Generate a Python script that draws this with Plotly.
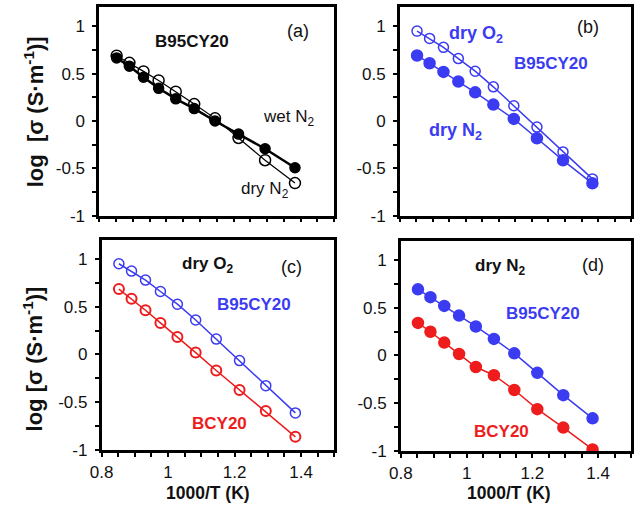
import plotly.graph_objects as go

# ---- data ----
inv_T = [0.852, 0.890, 0.932, 0.977, 1.028, 1.083, 1.145, 1.215, 1.294, 1.383]

a_wet_N2 = [0.666, 0.579, 0.462, 0.345, 0.234, 0.131, 0.000, -0.138, -0.293, -0.493]
a_dry_N2 = [0.690, 0.614, 0.524, 0.428, 0.310, 0.179, 0.028, -0.179, -0.414, -0.655]

b95_dry_O2 = [0.949, 0.872, 0.778, 0.659, 0.526, 0.361, 0.161, -0.064, -0.326, -0.611]
b95_dry_N2 = [0.692, 0.610, 0.518, 0.417, 0.303, 0.173, 0.022, -0.182, -0.415, -0.658]
bcy_dry_O2 = [0.684, 0.582, 0.463, 0.330, 0.184, 0.020, -0.167, -0.371, -0.592, -0.861]
bcy_dry_N2 = [0.340, 0.248, 0.135, 0.015, -0.121, -0.207, -0.361, -0.562, -0.754, -0.983]

x_ticks = [0.8, 1.0, 1.2, 1.4]
x_tick_text = ["0.8", "1", "1.2", "1.4"]
y_ticks = [-1, -0.5, 0, 0.5, 1]
y_tick_text = ["-1", "-0.5", "0", "0.5", "1"]

BLUE = "#3B3BF2"
RED = "#EE1C1C"
BLACK = "#000000"
W, H = 634, 515
FAM = "Liberation Sans, Arial, sans-serif"

fig = go.Figure()

def px_x(p):
    return p / W

def px_y(p):
    return 1 - p / H

panels = {
    # name: (left, right, top, bottom) in pixels
    "1": (89, 329, 7.5, 220),
    "2": (396, 632, 7.5, 220),
    "3": (91.5, 329, 244.5, 459),
    "4": (397, 632, 245.5, 460),
}

def add(panel, y, color, symbol, lw, msize=10, mlw=1.5):
    fig.add_trace(go.Scatter(
        x=inv_T, y=y, mode="lines+markers",
        xaxis="x" + ("" if panel == "1" else panel),
        yaxis="y" + ("" if panel == "1" else panel),
        line=dict(color=color, width=lw),
        marker=dict(symbol=symbol, size=msize, color=color,
                    line=dict(color=color, width=mlw)),
        showlegend=False, hoverinfo="skip"))

add("1", a_wet_N2, BLACK, "circle", 2.5, msize=10)
add("1", a_dry_N2, BLACK, "circle-open", 1.2, msize=11)
add("2", b95_dry_O2, BLUE, "circle-open", 1.5)
add("2", b95_dry_N2, BLUE, "circle", 1.5, msize=11)
add("3", b95_dry_O2, BLUE, "circle-open", 1.5)
add("3", bcy_dry_O2, RED, "circle-open", 1.5, mlw=2)
add("4", b95_dry_N2, BLUE, "circle", 1.5, msize=11)
add("4", bcy_dry_N2, RED, "circle", 1.5, msize=11)

font = dict(family=FAM, size=17, color="#111111")

layout = dict(width=W, height=H, margin=dict(l=0, r=0, t=0, b=0),
              paper_bgcolor="white", plot_bgcolor="white", font=font)

for name, (l, r, t, b) in panels.items():
    xk = "xaxis" + ("" if name == "1" else name)
    yk = "yaxis" + ("" if name == "1" else name)
    bottom = name in ("3", "4")
    layout[xk] = dict(
        domain=[px_x(l), px_x(r)], range=[0.8, 1.5], anchor="y" + ("" if name == "1" else name),
        showline=True, mirror=True, linecolor="black", linewidth=2.5,
        showgrid=False, zeroline=False,
        ticks="outside", ticklen=4, tickwidth=2, tickcolor="black",
        tickvals=x_ticks, ticktext=x_tick_text, showticklabels=bottom,
        minor=dict(dtick=0.05, tick0=0.8, ticks="outside", ticklen=4, tickwidth=2, tickcolor="black"),
        tickfont=font, ticklabelstandoff=1)
    layout[yk] = dict(
        domain=[px_y(b), px_y(t)], range=[-1, 1.2], anchor="x" + ("" if name == "1" else name),
        showline=True, mirror=True, linecolor="black", linewidth=2.5,
        showgrid=False, zeroline=False,
        ticks="outside", ticklen=4, tickwidth=2, tickcolor="black",
        tickvals=y_ticks, ticktext=y_tick_text,
        minor=dict(dtick=0.25, tick0=0, ticks="outside", ticklen=4, tickwidth=2, tickcolor="black"),
        tickfont=font, ticklabelstandoff=4)

fig.update_layout(**layout)

def ann(text, x, y, color="#111111", size=17, bold=False, angle=0):
    t = f"<b>{text}</b>" if bold else text
    fig.add_annotation(text=t, x=px_x(x), y=px_y(y), xref="paper", yref="paper",
                       showarrow=False, textangle=angle, xanchor="center", yanchor="middle",
                       font=dict(family=FAM, size=size, color=color))

# panel (a)
ann("B95CY20", 184, 42, bold=True, size=17)
ann("(a)", 292, 32, size=18)
ann("wet N<sub>2</sub>", 282, 120, size=17)
ann("dry N<sub>2</sub>", 258, 194, size=17)
# panel (b)
ann("dry O<sub>2</sub>", 474, 35, color=BLUE, bold=True, size=18)
ann("(b)", 588, 28, size=18)
ann("B95CY20", 550, 65, color=BLUE, bold=True, size=17)
ann("dry N<sub>2</sub>", 453, 134, color=BLUE, bold=True, size=18)
# panel (c)
ann("dry O<sub>2</sub>", 200, 270, bold=True, size=17)
ann("(c)", 285, 272, size=18)
ann("B95CY20", 247, 311, color=BLUE, bold=True, size=17)
ann("BCY20", 212, 432, color=RED, bold=True, size=17)
# panel (d)
ann("dry N<sub>2</sub>", 498, 272, bold=True, size=17)
ann("(d)", 593, 270, size=18)
ann("B95CY20", 542, 320, color=BLUE, bold=True, size=17)
ann("BCY20", 500, 440, color=RED, bold=True, size=17)

# axis titles
ann("log&nbsp;&nbsp;[σ (S·m<sup>-1</sup>)]", 22, 114, bold=True, angle=-90, size=22)
ann("log [σ (S·m<sup>-1</sup>)]", 21, 366, bold=True, angle=-90, size=22)
ann("1000/T (K)", 200, 503, bold=True, size=17.5)
ann("1000/T (K)", 507, 503, bold=True, size=17.5)

fig.write_html("out.html")
